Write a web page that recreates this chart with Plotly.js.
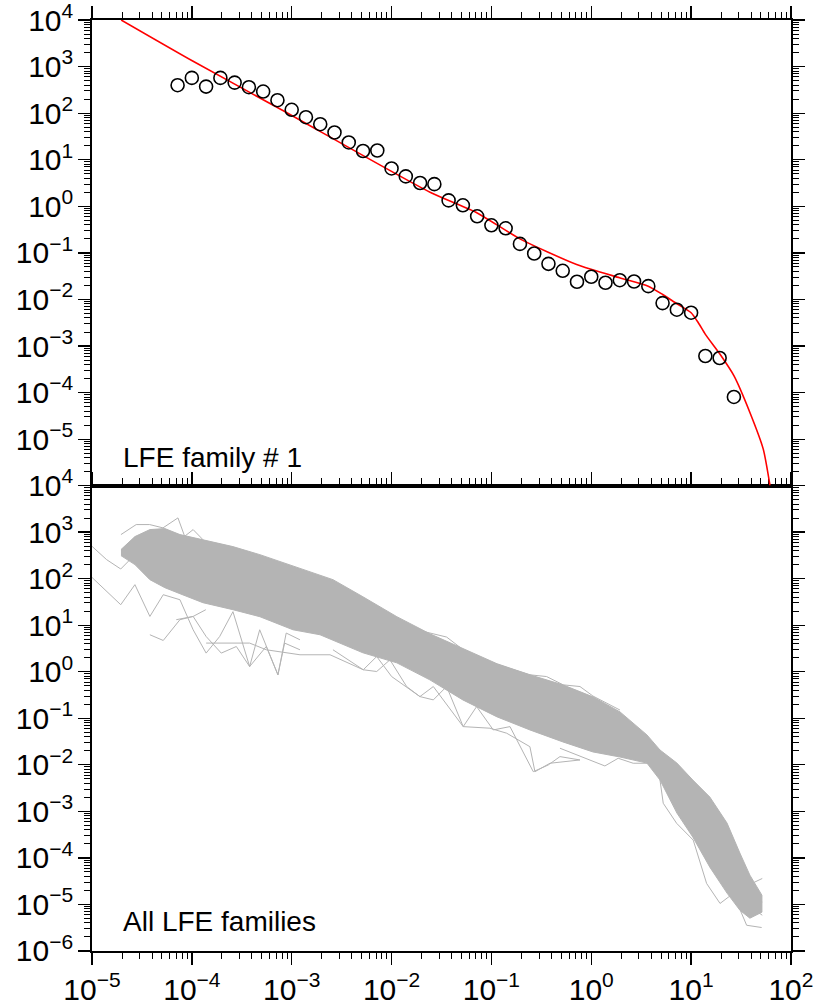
<!DOCTYPE html>
<html>
<head>
<meta charset="utf-8">
<script src="https://cdn.plot.ly/plotly-3.0.1.min.js"></script>
<style>html,body{margin:0;padding:0;background:#fff;}</style>
</head>
<body>
<div id="chart" style="width:815px;height:1005px;"></div>
<script>
// ---- Top panel: LFE family # 1 (open circles) ----
const famX = [7.197e-5, 1.0e-4, 1.389e-4, 1.931e-4, 2.683e-4, 3.728e-4, 5.179e-4, 7.197e-4,
  1.0e-3, 1.389e-3, 1.931e-3, 2.683e-3, 3.728e-3, 5.179e-3, 7.197e-3,
  0.01, 0.01389, 0.01931, 0.02683, 0.03728, 0.05179, 0.07197,
  0.1, 0.1389, 0.1931, 0.2683, 0.3728, 0.5179, 0.7197,
  1, 1.389, 1.931, 2.683, 3.728, 5.179, 7.197, 10, 13.89, 19.31, 26.83];
const famY = [399, 572, 372, 572, 453, 361, 291, 190, 118, 82, 58, 38.5, 23.5, 15.4, 15.8,
  6.5, 4.39, 3.17, 2.99, 1.34, 1.05, 0.61, 0.391, 0.337, 0.156, 0.0969, 0.0582, 0.0412,
  0.0240, 0.0307, 0.0228, 0.0259, 0.0243, 0.0193, 0.00834, 0.00603, 0.00519,
  6.1e-4, 5.53e-4, 8.07e-5];

// ---- Top panel: fitted curve (red) ----
const fitX = [1.96e-5, 1.03e-4, 7.98e-4, 0.0243, 0.0721, 0.193, 0.714, 1.92, 3.72, 5.19,
  7.2, 10.0, 11.8, 13.9, 19.5, 26.9, 38.8, 52.8, 61.7];
const fitY = [1e4, 1300, 116.7, 2.0, 0.721, 0.200, 0.0562, 0.0292, 0.0193, 0.0128,
  8.1e-3, 0.00519, 3.17e-3, 1.78e-3, 6.64e-4, 2.28e-4, 3.74e-5, 6.1e-6, 1.0e-6];

// ---- Bottom panel: dense band of all LFE families (envelope) ----
const bandX = [1.95e-5, 2.69e-5, 3.80e-5, 5.37e-5, 7.60e-5, 1.29e-4, 2.58e-4, 4.80e-4,
  1.03e-3, 1.92e-3, 2.59e-3, 5.16e-3, 0.0113, 0.0242, 0.0517, 0.114, 0.243, 0.520,
  1.04, 1.94, 3.61, 4.88, 7.21, 10.4, 15.4, 22.9, 30.8, 38.8, 51.2];
const bandUpper = [420, 799, 1130, 1188, 883, 689, 487, 327, 190, 122, 94.9, 40.8, 15.2,
  6.53, 3.11, 1.48, 0.857, 0.522, 0.288, 0.137, 0.0439, 0.0208, 0.0109, 4.71e-3,
  2.03e-3, 5.60e-4, 1.27e-4, 4.26e-5, 1.58e-5];
const bandLower = [312, 200, 94.9, 63.8, 47.4, 30.4, 21.5, 15.2, 7.96, 6.22, 4.85, 2.55,
  1.55, 0.668, 0.248, 0.107, 0.0561, 0.0310, 0.0189, 0.0147, 0.0109, 4.71e-3,
  9.18e-4, 2.80e-4, 6.33e-5, 1.75e-5, 7.52e-6, 5.06e-6, 6.81e-6];

// ---- Bottom panel: individual stray family curves ----
const strayAX = [1.00e-5, 1.40e-5, 1.94e-5, 2.59e-5, 3.53e-5];
const strayAY = [494, 256, 161, 301, 420];
const strayBX = [1.00e-5, 1.94e-5, 2.69e-5, 3.80e-5, 5.17e-5, 7.60e-5];
const strayBY = [106, 27.5, 74.1, 15.4, 45.1, 35.2];
const strayCX = [3.80e-5, 5.17e-5, 7.60e-5, 1.03e-4, 1.38e-4];
const strayCY = [6.22, 4.69, 13.1, 15.4, 21.5];
const strayDX = [7.60e-5, 1.03e-4, 1.39e-4, 1.90e-4, 2.58e-4, 3.79e-4, 4.78e-4, 7.28e-4, 8.81e-4, 1.21e-3];
const strayDY = [35.2, 7.96, 2.51, 5.71, 19.5, 1.29, 7.96, 0.857, 6.77, 4.85];
const strayEX = [1.95e-5, 2.77e-5, 3.78e-5, 5.14e-5, 7.26e-5, 8.47e-5, 1.03e-4, 1.29e-4];
const strayEY = [883, 1449, 1449, 1230, 2018, 811, 1130, 689];
const strayFX = [2.59e-3, 5.21e-3, 7.10e-3, 9.64e-3, 0.01416, 0.01923, 0.0262, 0.0356,
  0.0522, 0.0711, 0.1044, 0.1535, 0.2626, 0.371, 0.486, 0.771];
const strayFY = [2.96, 1.10, 1.01, 1.80, 0.480, 0.292, 0.248, 0.480, 0.0661, 0.178,
  0.0561, 0.0661, 7.11e-3, 9.91e-3, 0.0150, 0.0127];
const strayGX = [0.486, 1.37, 1.86, 2.63, 3.87];
const strayGY = [0.0227, 9.44e-3, 0.0138, 0.0108, 0.0108];
const strayHX = [4.88, 5.26, 7.17, 10.5, 14.3, 19.5, 26.4, 36.0, 50.9];
const strayHY = [4.71e-3, 1.49e-3, 5.52e-4, 2.41e-4, 2.82e-5, 1.05e-5, 1.72e-5, 3.57e-6, 3.19e-6];
const strayIX = [22.9, 37.4, 51.6];
const strayIY = [1.47e-4, 2.60e-5, 3.61e-5];
const strayJX = [22.9, 37.4, 51.6];
const strayJY = [8.95e-5, 1.72e-5, 1.13e-5];
const strayKX = [22.9, 37.4, 51.6];
const strayKY = [5.46e-5, 9.6e-6, 5.86e-6];
const strayLX = [0.01783, 0.0356, 0.0522, 0.0829, 0.243, 0.357, 0.524, 0.771, 1.04, 1.94];
const strayLY = [7.96, 5.55, 2.96, 1.80, 0.857, 0.787, 0.522, 0.480, 0.30, 0.15];
const strayMX = [6.98e-5, 1.03e-4, 1.39e-4, 1.97e-4, 2.79e-4, 3.79e-4, 5.56e-4, 7.28e-4, 8.49e-4, 1.21e-3];
const strayMY = [13.1, 15.4, 5.71, 2.51, 3.48, 1.29, 3.48, 0.857, 4.12, 2.96];
const strayNX = [1.39e-4, 3.79e-4, 5.56e-4, 1.21e-3, 2.42e-3];
const strayNY = [4.12, 4.12, 2.96, 2.31, 2.31];
const strayOX = [2.42e-3, 5.21e-3, 7.10e-3, 0.01002, 0.01923, 0.0262, 0.0522, 0.0967,
  0.1422, 0.243, 0.273, 0.386, 0.771];
const strayOY = [2.31, 1.10, 2.12, 0.787, 0.292, 0.480, 0.0661, 0.0611, 0.0477, 0.0245,
  7.11e-3, 0.0108, 0.0127];

const strays = [[strayAX, strayAY], [strayBX, strayBY], [strayCX, strayCY], [strayDX, strayDY],
  [strayEX, strayEY], [strayFX, strayFY], [strayGX, strayGY], [strayHX, strayHY],
  [strayIX, strayIY], [strayJX, strayJY], [strayKX, strayKY], [strayLX, strayLY],
  [strayMX, strayMY], [strayNX, strayNY], [strayOX, strayOY]];

const panelLabels = ['LFE family # 1', 'All LFE families'];

const GRAY = '#b4b4b4';
const FONT = 'Liberation Sans, Arial, Helvetica, sans-serif';

const traces = [];
traces.push({
  x: bandX.concat(bandX.slice().reverse()),
  y: bandUpper.concat(bandLower.slice().reverse()),
  xaxis: 'x', yaxis: 'y', mode: 'lines', fill: 'toself',
  fillcolor: GRAY, line: {color: GRAY, width: 1}, hoverinfo: 'skip'
});
strays.forEach(s => traces.push({
  x: s[0], y: s[1], xaxis: 'x', yaxis: 'y', mode: 'lines',
  line: {color: GRAY, width: 1}, hoverinfo: 'skip'
}));
traces.push({
  x: fitX, y: fitY, xaxis: 'x2', yaxis: 'y2', mode: 'lines',
  line: {color: '#ff0000', width: 1.6, shape: 'spline', smoothing: 0.6}
});
traces.push({
  x: famX, y: famY, xaxis: 'x2', yaxis: 'y2', mode: 'markers',
  marker: {symbol: 'circle-open', size: 13, color: '#000', line: {width: 1.6, color: '#000'}}
});

const baseAxis = {
  type: 'log', ticks: 'outside', ticklen: 12, tickwidth: 1.3, tickcolor: '#000',
  showline: true, linecolor: '#000', linewidth: 2, showgrid: false, zeroline: false,
  dtick: 1, exponentformat: 'power', ticklabeloverflow: 'allow',
  tickfont: {family: FONT, size: 24, color: '#000'},
  labelalias: {'1': '10<sup>0</sup>', '10': '10<sup>1</sup>'},
  minor: {ticks: 'outside', ticklen: 6, tickwidth: 1, tickcolor: '#000', dtick: 'D1', showgrid: false}
};

const layout = {
  width: 815, height: 1005,
  margin: {l: 92, r: 24, t: 20, b: 54},
  paper_bgcolor: '#fff', plot_bgcolor: '#fff',
  showlegend: false,
  font: {family: FONT, color: '#000'},
  xaxis: Object.assign({}, baseAxis, {range: [-5, 2.0005], domain: [0, 1], anchor: 'y', mirror: 'allticks'}),
  yaxis: Object.assign({}, baseAxis, {range: [-6.0005, 4.0005], domain: [0, 0.5], anchor: 'x', mirror: 'allticks'}),
  xaxis2: Object.assign({}, baseAxis, {range: [-5, 2.0005], domain: [0, 1], anchor: 'y2', side: 'top',
    showticklabels: false, mirror: true}),
  yaxis2: Object.assign({}, baseAxis, {range: [-5.995, 4.0005], domain: [0.5, 1], anchor: 'x2', mirror: 'allticks'}),
  annotations: [
    {text: panelLabels[0], xref: 'paper', yref: 'paper', x: 0.041, y: 0.5305,
     xanchor: 'left', yanchor: 'middle', showarrow: false, font: {family: FONT, size: 28, color: '#000'}},
    {text: panelLabels[1], xref: 'paper', yref: 'paper', x: 0.041, y: 0.032,
     xanchor: 'left', yanchor: 'middle', showarrow: false, font: {family: FONT, size: 28, color: '#000'}}
  ]
};

Plotly.newPlot('chart', traces, layout, {displayModeBar: false, staticPlot: true});
</script>
</body>
</html>
